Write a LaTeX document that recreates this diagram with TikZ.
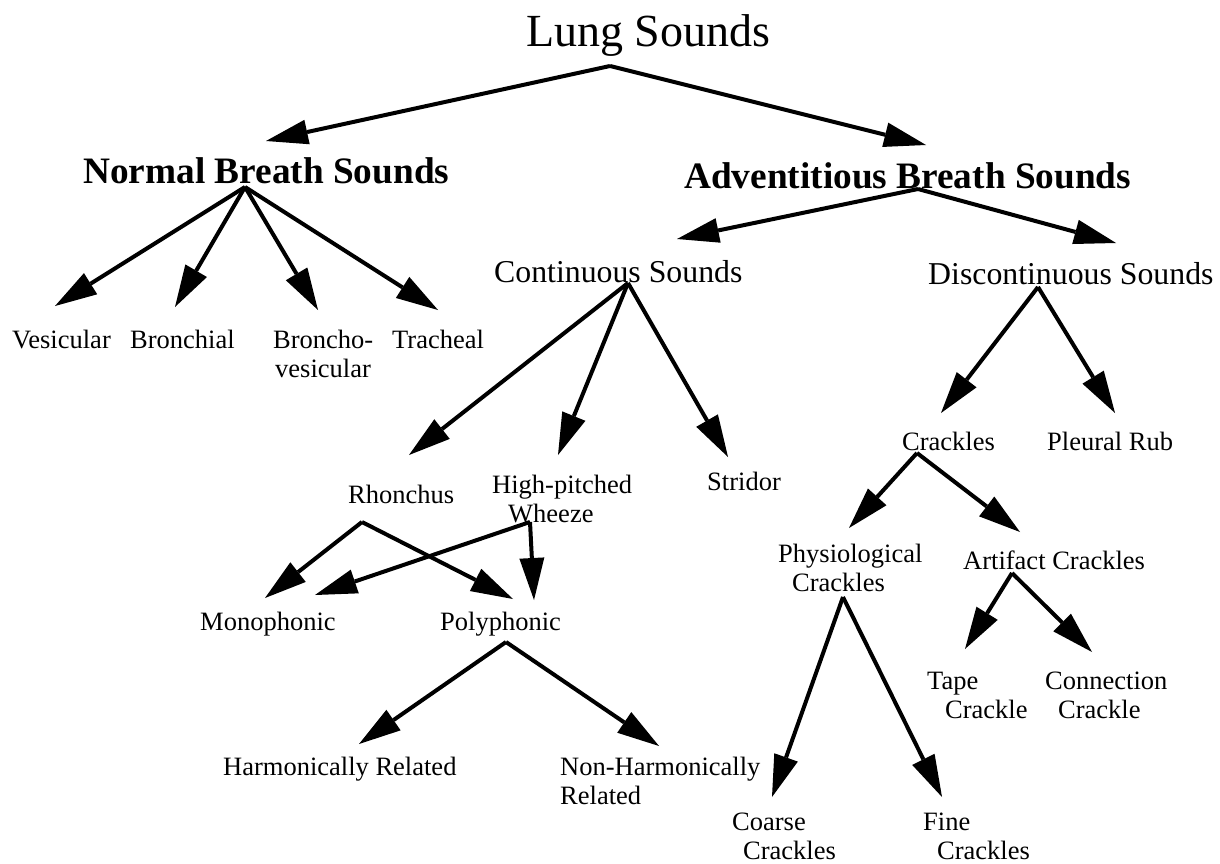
\documentclass[tikz,border=0pt]{standalone}
\usepackage{fontspec}
\setmainfont{Liberation Serif}
\usetikzlibrary{arrows.meta}
\tikzset{
  lbl/.style={anchor=base west, inner sep=0pt, font=\fontsize{26.5}{29}\selectfont},
  midlbl/.style={anchor=base west, inner sep=0pt, font=\fontsize{31.8}{35}\selectfont},
  hdr/.style={anchor=base west, inner sep=0pt, font=\fontsize{37.3}{41}\selectfont\bfseries},
  ttl/.style={anchor=base west, inner sep=0pt, font=\fontsize{46}{50}\selectfont},
  arr/.style={line width=4pt, -{Triangle[length=42pt,width=25pt,line width=0pt]}}
}
\newcommand{\twoline}[3]{\begin{tabular}[t]{@{}l@{}}#1\\\hspace*{#2}#3\end{tabular}}
\begin{document}
\begin{tikzpicture}[x=1pt,y=-1pt]
\useasboundingbox (0,0) rectangle (1220,864);
% ---- nodes
\node[ttl] (lung) at (526,47) {Lung Sounds};
\node[hdr] (normal) at (83,183) {Normal Breath Sounds};
\node[hdr] (advent) at (684,188) {Adventitious Breath Sounds};
\node[midlbl] (cont) at (494,282) {Continuous Sounds};
\node[midlbl] (disc) at (928,284) {Discontinuous Sounds};
\node[lbl] (vesic) at (12,348) {Vesicular};
\node[lbl] (bronch) at (130,348) {Bronchial};
\node[lbl] (bves) at (273,348) {\twoline{Broncho-}{2pt}{vesicular}};
\node[lbl] (trach) at (392,348) {Tracheal};
\node[lbl] (rhon) at (348,503) {Rhonchus};
\node[lbl] (wheeze) at (492,493) {\twoline{High-pitched}{16pt}{Wheeze}};
\node[lbl] (strid) at (707,490) {Stridor};
\node[lbl] (crack) at (902,450) {Crackles};
\node[lbl] (pleur) at (1047,450) {Pleural Rub};
\node[lbl] (phys) at (778,562) {\twoline{Physiological}{14pt}{Crackles}};
\node[lbl] (artif) at (963,569) {Artifact Crackles};
\node[lbl] (mono) at (200,630) {Monophonic};
\node[lbl] (poly) at (440,630) {Polyphonic};
\node[lbl] (harm) at (223,775) {Harmonically Related};
\node[lbl] (nonharm) at (560,775) {\twoline{Non-Harmonically}{0pt}{Related}};
\node[lbl] (tape) at (927,689) {\twoline{Tape}{18pt}{Crackle}};
\node[lbl] (conn) at (1045,689) {\twoline{Connection}{13pt}{Crackle}};
\node[lbl] (coarse) at (732,830) {\twoline{Coarse}{11pt}{Crackles}};
\node[lbl] (fine) at (923,830) {\twoline{Fine}{14pt}{Crackles}};
% ---- connector end points
\coordinate (lung-o) at (610,66);
\coordinate (normal-i) at (266,141);
\coordinate (advent-i) at (926,145);
\coordinate (normal-o) at (245,187);
\coordinate (vesic-i) at (55,306);
\coordinate (bronch-i) at (175,307);
\coordinate (bves-i) at (318,310);
\coordinate (trach-i) at (438,310);
\coordinate (advent-o) at (918,189);
\coordinate (cont-i) at (677,239);
\coordinate (disc-i) at (1116,243);
\coordinate (cont-o) at (628,283);
\coordinate (rhon-i) at (409,455);
\coordinate (wheeze-i) at (558,455);
\coordinate (strid-i) at (728,457);
\coordinate (disc-o) at (1038,287);
\coordinate (crack-i) at (941,413);
\coordinate (pleur-i) at (1115,413);
\coordinate (rhon-o) at (362,522);
\coordinate (mono-ia) at (265,598);
\coordinate (poly-ia) at (513,599);
\coordinate (wheeze-o) at (530,522);
\coordinate (mono-ib) at (315,595);
\coordinate (poly-ib) at (534,600);
\coordinate (poly-o) at (506,642);
\coordinate (harm-i) at (359,744);
\coordinate (nonharm-i) at (659,746);
\coordinate (crack-o) at (917,453);
\coordinate (phys-i) at (849,528);
\coordinate (artif-i) at (1020,532);
\coordinate (phys-o) at (843,597);
\coordinate (coarse-i) at (772,797);
\coordinate (fine-i) at (942,797);
\coordinate (artif-o) at (1012,573);
\coordinate (tape-i) at (965,649);
\coordinate (conn-i) at (1092,652);
% ---- connectors
\draw[arr] (lung-o) -- (normal-i);
\draw[arr] (lung-o) -- (advent-i);
\draw[arr] (normal-o) -- (vesic-i);
\draw[arr] (normal-o) -- (bronch-i);
\draw[arr] (normal-o) -- (bves-i);
\draw[arr] (normal-o) -- (trach-i);
\draw[arr] (advent-o) -- (cont-i);
\draw[arr] (advent-o) -- (disc-i);
\draw[arr] (cont-o) -- (rhon-i);
\draw[arr] (cont-o) -- (wheeze-i);
\draw[arr] (cont-o) -- (strid-i);
\draw[arr] (disc-o) -- (crack-i);
\draw[arr] (disc-o) -- (pleur-i);
\draw[arr] (rhon-o) -- (mono-ia);
\draw[arr] (rhon-o) -- (poly-ia);
\draw[arr] (wheeze-o) -- (mono-ib);
\draw[arr] (wheeze-o) -- (poly-ib);
\draw[arr] (poly-o) -- (harm-i);
\draw[arr] (poly-o) -- (nonharm-i);
\draw[arr] (crack-o) -- (phys-i);
\draw[arr] (crack-o) -- (artif-i);
\draw[arr] (phys-o) -- (coarse-i);
\draw[arr] (phys-o) -- (fine-i);
\draw[arr] (artif-o) -- (tape-i);
\draw[arr] (artif-o) -- (conn-i);
\end{tikzpicture}
\end{document}
